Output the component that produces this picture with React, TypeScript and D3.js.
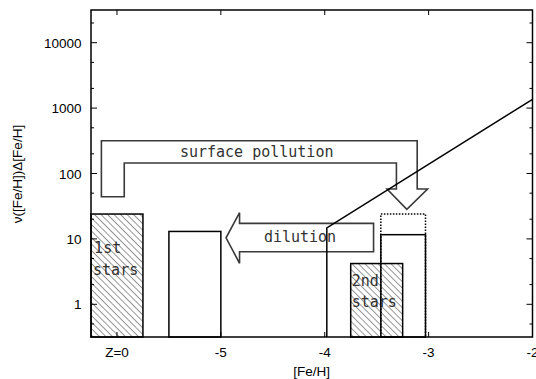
import React from 'react';
import * as d3 from 'd3';

// axis ticks
const xTicks = [-6, -5, -4, -3, -2];
const xTickLabels = ['Z=0', '-5', '-4', '-3', '-2'];
const yMajor = [1, 10, 100, 1000, 10000];
const yTickLabels = ['1', '10', '100', '1000', '10000'];
const yMinor = [0.5, 2, 5, 20, 50, 200, 500, 2000, 5000, 20000];

// histogram boxes
const barX0 = [-6.25, -5.5, -3.75, -3.46];
const barX1 = [-5.75, -5.0, -3.25, -3.03];
const barValue = [24, 13, 4.2, 11.6];
const barHatched = [true, false, true, false];

// dotted box (after pollution)
const dottedX0 = -3.46;
const dottedX1 = -3.03;
const dottedValue = 24;

// power-law line
const lineX = [-3.98, -3.98, -2];
const lineY = [0.316, 14.7, 1365];

// arrows (data coordinates)
const pollutionX = [-6.15, -6.15, -5.93, -5.93, -3.31, -3.31, -3.4, -3.21, -3.01, -3.11, -3.11];
const pollutionY = [316, 44.2, 44.2, 145, 145, 58, 58, 28.4, 58, 58, 316];
const dilutionX = [-3.53, -4.82, -4.82, -4.95, -4.82, -4.82, -3.53];
const dilutionY = [17.3, 17.3, 25.2, 10.4, 4.24, 6.37, 6.37];

const margin = { top: 10, right: 3.5, bottom: 42, left: 91 };
const W = 536;
const H = 379;

export default function App() {
  const iw = W - margin.left - margin.right;
  const ih = H - margin.top - margin.bottom;
  const x = d3.scaleLinear().domain([-6.25, -2]).range([0, iw]);
  const y = d3.scaleLog().domain([Math.pow(10, -0.5), Math.pow(10, 4.5)]).range([ih, 0]);

  const poly = (xs: number[], ys: number[]) =>
    xs.map((v, i) => `${x(v)},${y(ys[i])}`).join(' ');

  const line = d3.line<number>()
    .x((d, i) => x(lineX[i]))
    .y(d => y(d));

  const mono = { fontFamily: '"DejaVu Sans Mono", monospace', fontSize: 15, fill: '#333' };
  const sans = { fontFamily: '"Liberation Sans", Arial, sans-serif', fontSize: 13.5, fill: '#000' };

  return (
    <div style={{ position: 'absolute', left: 0, top: 0 }}>
      <svg width={W} height={H} style={{ display: 'block', background: '#fff' }}>
        <defs>
          <pattern id="hatch" patternUnits="userSpaceOnUse" width={4.6} height={4.6} patternTransform="rotate(-45)">
            <line x1={0} y1={0} x2={0} y2={4.6} stroke="#000" strokeWidth={0.8} />
          </pattern>
          <clipPath id="plotclip">
            <rect x={0} y={0} width={iw} height={ih} />
          </clipPath>
        </defs>
        <g transform={`translate(${margin.left},${margin.top})`}>
          {/* boxes */}
          {barValue.map((v, i) => (
            <rect key={i}
              x={x(barX0[i])} y={y(v)}
              width={x(barX1[i]) - x(barX0[i])} height={ih - y(v)}
              fill={barHatched[i] ? 'url(#hatch)' : 'none'}
              stroke="#000" strokeWidth={1.5} />
          ))}
          <polyline
            points={`${x(dottedX0)},${ih} ${x(dottedX0)},${y(dottedValue)} ${x(dottedX1)},${y(dottedValue)} ${x(dottedX1)},${ih}`}
            fill="none" stroke="#000" strokeWidth={1.5} strokeDasharray="1.5,1.5" />

          {/* arrows */}
          <polygon points={poly(pollutionX, pollutionY)} fill="none" stroke="#3a3a3a" strokeWidth={1.6} />
          <polygon points={poly(dilutionX, dilutionY)} fill="none" stroke="#3a3a3a" strokeWidth={1.6} />

          {/* labels */}
          <text x={x(-4.655)} y={y(181)} textAnchor="middle" {...mono}>surface pollution</text>
          <text x={x(-4.238)} y={y(9.06)} textAnchor="middle" {...mono}>dilution</text>
          <text x={x(-6.22)} y={y(6.0)} {...mono}>1st</text>
          <text x={x(-6.23)} y={y(2.8)} {...mono}>stars</text>
          <text x={x(-3.74)} y={y(1.9)} {...mono}>2nd</text>
          <text x={x(-3.74)} y={y(0.9)} {...mono}>stars</text>

          {/* line */}
          <path d={line(lineY) || ''} fill="none" stroke="#000" strokeWidth={1.5} clipPath="url(#plotclip)" />

          {/* ticks */}
          {xTicks.map((t, i) => (
            <g key={'xt' + i}>
              <line x1={x(t)} x2={x(t)} y1={ih} y2={ih - 5} stroke="#000" strokeWidth={1} />
              <line x1={x(t)} x2={x(t)} y1={0} y2={5} stroke="#000" strokeWidth={1} />
              <text x={x(t)} y={ih + 19.7} textAnchor="middle" {...sans}>{xTickLabels[i]}</text>
            </g>
          ))}
          {yMajor.map((t, i) => (
            <g key={'yt' + i}>
              <line x1={0} x2={6} y1={y(t)} y2={y(t)} stroke="#000" strokeWidth={1} />
              <line x1={iw} x2={iw - 6} y1={y(t)} y2={y(t)} stroke="#000" strokeWidth={1} />
              <text x={-9.5} y={y(t) + 5} textAnchor="end" {...sans}>{yTickLabels[i]}</text>
            </g>
          ))}
          {yMinor.map((t, i) => (
            <g key={'ym' + i}>
              <line x1={0} x2={3} y1={y(t)} y2={y(t)} stroke="#000" strokeWidth={1} />
              <line x1={iw} x2={iw - 3} y1={y(t)} y2={y(t)} stroke="#000" strokeWidth={1} />
            </g>
          ))}

          {/* frame */}
          <rect x={0} y={0} width={iw} height={ih} fill="none" stroke="#000" strokeWidth={1.5} />

          {/* axis titles */}
          <text x={iw / 2} y={ih + 39} textAnchor="middle" {...sans}>[Fe/H]</text>
          <text transform={`translate(${22 - margin.left},${ih / 2 + 0.5}) rotate(-90)`} textAnchor="middle" {...sans}>ν([Fe/H])Δ[Fe/H]</text>
        </g>
      </svg>
    </div>
  );
}
